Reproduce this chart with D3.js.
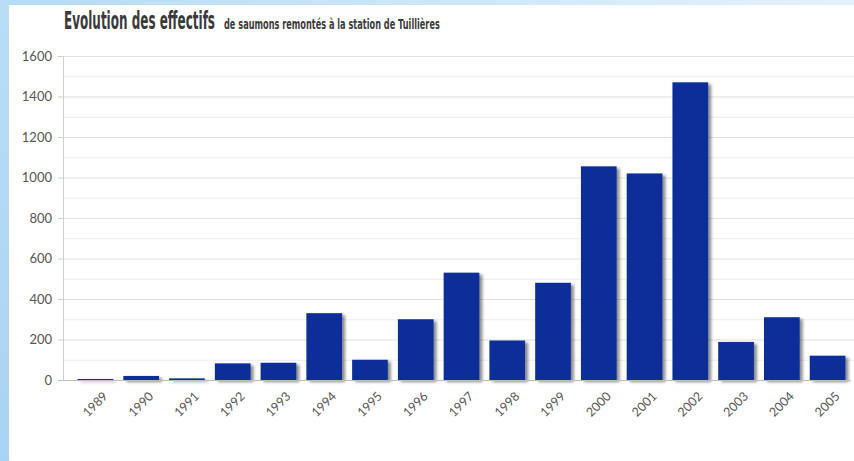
<!DOCTYPE html>
<html><head><meta charset="utf-8">
<script src="https://cdn.jsdelivr.net/npm/d3@7"></script>
<style>
html,body{margin:0;padding:0;overflow:hidden;}
body{width:854px;height:461px;}
</style></head>
<body>
<svg id="chart" width="854" height="461"></svg>
<script>
const years = ["1989","1990","1991","1992","1993","1994","1995","1996","1997","1998","1999","2000","2001","2002","2003","2004","2005"];
const salmon = [5,20,8,82,85,330,100,300,530,195,480,1055,1020,1470,188,310,120];
const yTicks = [0,200,400,600,800,1000,1200,1400,1600];
const minorTicks = [100,300,500,700,900,1100,1300,1500];
const titleMain = "Evolution des effectifs";
const titleSub = "de saumons remontés à la station de Tuillières";

const svg = d3.select("#chart");
const defs = svg.append("defs");
const bg = defs.append("linearGradient").attr("id","bgTop").attr("x1","0").attr("x2","1").attr("y1","0").attr("y2","0");
bg.append("stop").attr("offset","0").attr("stop-color","#b4dbf6");
bg.append("stop").attr("offset","1").attr("stop-color","#e4f1fb");
const bgL = defs.append("linearGradient").attr("id","bgLeft").attr("x1","0").attr("x2","0").attr("y1","0").attr("y2","1");
bgL.append("stop").attr("offset","0").attr("stop-color","#b9ddf7");
bgL.append("stop").attr("offset","1").attr("stop-color","#a9d3f4");
const f = defs.append("filter").attr("id","shadow").attr("x","-20%").attr("y","-20%").attr("width","150%").attr("height","150%");
f.append("feDropShadow").attr("dx",3).attr("dy",2).attr("stdDeviation",1.6).attr("flood-color","#000").attr("flood-opacity",0.45);

svg.append("rect").attr("x",0).attr("y",0).attr("width",854).attr("height",461).attr("fill","url(#bgTop)");
svg.append("rect").attr("x",0).attr("y",0).attr("width",9).attr("height",461).attr("fill","url(#bgLeft)");
svg.append("rect").attr("x",9).attr("y",5).attr("width",845).attr("height",456).attr("fill","#ffffff");

const x = d3.scaleBand().domain(years).range([73,850]).paddingInner(0.22).paddingOuter(0.1);
const y = d3.scaleLinear().domain([0,1600]).range([380,56]);
const axisLeftX = 63;

// grid
svg.append("g").selectAll("line").data(minorTicks).join("line")
  .attr("x1",axisLeftX).attr("x2",854).attr("y1",d=>y(d)+0.5).attr("y2",d=>y(d)+0.5)
  .attr("stroke","#ececec").attr("stroke-width",1.2);
svg.append("g").selectAll("line").data(yTicks.filter(d=>d>0)).join("line")
  .attr("x1",axisLeftX).attr("x2",854).attr("y1",d=>y(d)+0.5).attr("y2",d=>y(d)+0.5)
  .attr("stroke","#e0e0e0").attr("stroke-width",1.2);

// y axis
const yAxis = svg.append("g").attr("transform",`translate(${axisLeftX},0)`)
  .call(d3.axisLeft(y).tickValues(yTicks).tickFormat(d3.format("d")).tickSize(5).tickPadding(6));
yAxis.select(".domain").attr("stroke","#cfcfcf");
yAxis.selectAll(".tick line").attr("stroke","#cfcfcf");
yAxis.selectAll(".tick text").attr("fill","#555").attr("font-family","Lato, 'Noto Sans', sans-serif").attr("font-size","13px");

// bars
svg.append("g").attr("filter","url(#shadow)").selectAll("rect").data(years).join("rect")
  .attr("x",d=>x(d)).attr("width",x.bandwidth())
  .attr("y",(d,i)=>y(salmon[i])).attr("height",(d,i)=>y(0)-y(salmon[i]))
  .attr("fill","#0a2e98");

// baseline
svg.append("line").attr("x1",axisLeftX-5).attr("x2",851).attr("y1",380.5).attr("y2",380.5).attr("stroke","#bdbdbd").attr("stroke-width",1.2);

// x axis labels
const xAxis = svg.append("g").attr("transform","translate(0,380)")
  .call(d3.axisBottom(x).tickSize(0).tickPadding(0));
xAxis.select(".domain").remove();
xAxis.selectAll(".tick text")
  .attr("fill","#555").attr("font-family","Lato, 'Noto Sans', sans-serif").attr("font-size","12.5px")
  .attr("text-anchor","end").attr("dy",0)
  .attr("transform","translate(13,17) rotate(-45)");

// titles (condensed via horizontal scale)
function condensedText(str, x0, y0, size, width) {
  const t = svg.append("text").attr("x",0).attr("y",0).text(str)
    .attr("font-family","'DejaVu Sans', sans-serif").attr("font-weight","bold").attr("font-size",size+"px")
    .attr("fill","#3a3a3a");
  const w = t.node().getComputedTextLength();
  t.attr("transform",`translate(${x0},${y0}) scale(${width / w},1)`);
}
condensedText(titleMain, 64, 29, 24, 151);
condensedText(titleSub, 224, 29, 13.5, 216);
</script>
</body></html>
